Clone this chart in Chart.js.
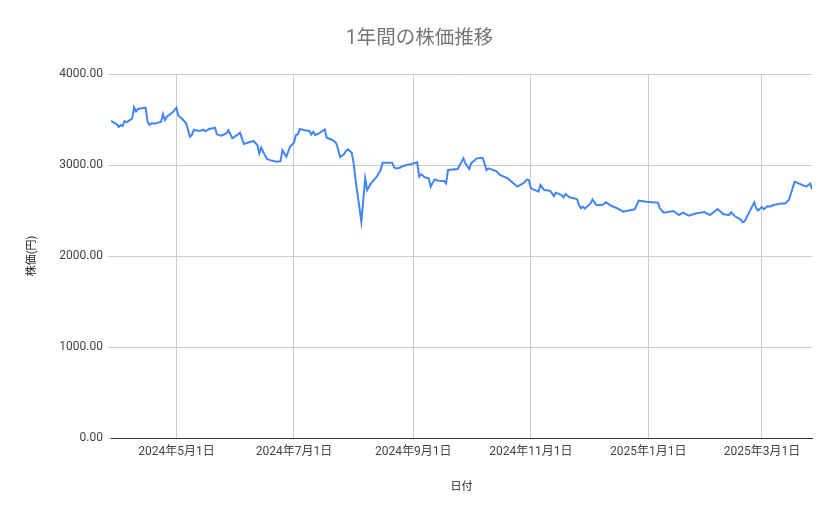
<!DOCTYPE html>
<html>
<head>
<meta charset="utf-8">
<script src="https://cdn.jsdelivr.net/npm/chart.js@4/dist/chart.umd.min.js"></script>
<style>
  html, body { margin: 0; padding: 0; background: #fff; }
  #wrap { width: 839px; height: 519px; position: relative; }
</style>
</head>
<body>
<div id="wrap"><canvas id="myChart"></canvas></div>
<script>
'use strict'

// values (vertices of the line)
const dates = [
  '2024-03-28','2024-03-31','2024-04-01','2024-04-02','2024-04-03','2024-04-04','2024-04-05','2024-04-07',
  '2024-04-08','2024-04-09','2024-04-10','2024-04-11','2024-04-13','2024-04-15','2024-04-16','2024-04-17',
  '2024-04-18','2024-04-20','2024-04-23','2024-04-24','2024-04-25','2024-04-26','2024-04-29','2024-05-01',
  '2024-05-02','2024-05-04','2024-05-06','2024-05-08','2024-05-09','2024-05-10','2024-05-13','2024-05-15',
  '2024-05-16','2024-05-18','2024-05-21','2024-05-22','2024-05-24','2024-05-27','2024-05-28','2024-05-30',
  '2024-06-01','2024-06-03','2024-06-05','2024-06-07','2024-06-10','2024-06-12','2024-06-13','2024-06-14',
  '2024-06-15','2024-06-17','2024-06-19','2024-06-22','2024-06-24','2024-06-25','2024-06-27','2024-06-29',
  '2024-07-01','2024-07-02','2024-07-03','2024-07-04','2024-07-06','2024-07-09','2024-07-10','2024-07-11',
  '2024-07-12','2024-07-14','2024-07-17','2024-07-18','2024-07-21','2024-07-23','2024-07-25','2024-07-27',
  '2024-07-28','2024-07-29','2024-07-31','2024-08-01','2024-08-02','2024-08-05','2024-08-07','2024-08-08',
  '2024-08-10','2024-08-13','2024-08-15','2024-08-16','2024-08-21','2024-08-22','2024-08-23','2024-08-25',
  '2024-08-27','2024-08-31','2024-09-03','2024-09-04','2024-09-05','2024-09-07','2024-09-09','2024-09-10',
  '2024-09-12','2024-09-14','2024-09-17','2024-09-18','2024-09-19','2024-09-24','2024-09-27','2024-09-28',
  '2024-09-30','2024-10-01','2024-10-04','2024-10-07','2024-10-09','2024-10-10','2024-10-14','2024-10-16',
  '2024-10-20','2024-10-25','2024-10-28','2024-10-30','2024-10-31','2024-11-01','2024-11-05','2024-11-06',
  '2024-11-08','2024-11-11','2024-11-13','2024-11-14','2024-11-17','2024-11-18','2024-11-19','2024-11-21',
  '2024-11-25','2024-11-26','2024-11-27','2024-11-28','2024-11-29','2024-12-02','2024-12-03','2024-12-05',
  '2024-12-08','2024-12-10','2024-12-13','2024-12-16','2024-12-19','2024-12-23','2024-12-25','2024-12-27',
  '2024-12-31','2025-01-06','2025-01-07','2025-01-09','2025-01-14','2025-01-17','2025-01-19','2025-01-22',
  '2025-01-26','2025-01-28','2025-01-30','2025-02-02','2025-02-06','2025-02-09','2025-02-12','2025-02-13',
  '2025-02-15','2025-02-18','2025-02-19','2025-02-20','2025-02-25','2025-02-26','2025-02-27','2025-03-01',
  '2025-03-02','2025-03-04','2025-03-05','2025-03-07','2025-03-11','2025-03-13','2025-03-15','2025-03-18',
  '2025-03-20','2025-03-24','2025-03-26','2025-03-27'
];

const prices = [
  3484,3447,3418,3440,3428,3484,3469,3495,
  3513,3634,3590,3615,3623,3630,3476,3440,
  3458,3455,3476,3560,3495,3531,3579,3630,
  3542,3505,3458,3311,3330,3385,3374,3388,
  3370,3396,3410,3337,3322,3348,3381,3293,
  3322,3355,3231,3245,3264,3220,3128,3190,
  3146,3066,3051,3036,3040,3164,3091,3201,
  3245,3330,3337,3396,3385,3374,3335,3365,
  3330,3348,3392,3300,3275,3238,3088,3117,
  3154,3172,3135,3018,2835,2377,2853,2725,
  2798,2872,2945,3025,3025,2974,2963,2970,
  2992,3011,3030,2872,2898,2865,2853,2762,
  2842,2827,2824,2798,2945,2956,3073,3018,
  2956,3018,3073,3080,2945,2963,2934,2890,
  2853,2762,2798,2840,2835,2744,2707,2780,
  2725,2718,2659,2696,2670,2645,2681,2645,
  2626,2560,2524,2542,2520,2578,2622,2560,
  2560,2590,2549,2524,2487,2505,2513,2608,
  2597,2586,2524,2476,2494,2451,2476,2443,
  2469,2476,2484,2451,2516,2458,2451,2480,
  2436,2400,2370,2381,2590,2524,2500,2540,
  2513,2549,2542,2560,2578,2578,2615,2817,
  2798,2762,2798,2733
];

const xTickDates = ['2024-05-01','2024-07-01','2024-09-01','2024-11-01','2025-01-01','2025-03-01'];
const yTicks = [0, 1000, 2000, 3000, 4000];

const chartTitle = '1年間の株価推移';
const xTitle = '日付';
const yTitle = '株価(円)';

function toMs(s){
  let p = s.split('-');
  return Date.UTC(+p[0], +p[1]-1, +p[2]);
}

function jpDate(ms){
  let d = new Date(ms);
  return d.getUTCFullYear()+'年'+(d.getUTCMonth()+1)+'月'+d.getUTCDate()+'日';
}

let points = dates.map((d,i) => ({x: toMs(d), y: prices[i]}));

const FONT = "Roboto, 'Noto Sans CJK JP', sans-serif";

new Chart(document.getElementById('myChart'), {
  type: 'line',
  data: {
    datasets: [{
      label: '株価',
      data: points,
      borderColor: '#4285f4',
      borderWidth: 2,
      pointRadius: 0,
      tension: 0,
      fill: false
    }]
  },
  options: {
    responsive: true,
    maintainAspectRatio: false,
    animation: false,
    layout: { padding: 0 },
    plugins: {
      legend: { display: false },
      tooltip: { enabled: false },
      title: {
        display: true,
        text: chartTitle,
        color: '#757575',
        font: { family: FONT, size: 19.5, weight: 'normal' },
        padding: { top: 27.3, bottom: 23.3 }
      }
    },
    scales: {
      x: {
        type: 'linear',
        min: toMs(dates[0]),
        max: toMs(dates[dates.length-1]),
        afterBuildTicks: function(scale){
          scale.ticks = xTickDates.map(s => ({value: toMs(s)}));
        },
        afterFit: function(scale){ scale.height = 81; },
        grid: { color: '#cccccc', drawTicks: false },
        border: { color: '#333333', width: 1 },
        ticks: {
          autoSkip: false,
          maxRotation: 0,
          padding: 7,
          color: '#444444',
          font: { family: FONT, size: 12 },
          callback: v => jpDate(v)
        },
        title: {
          display: true,
          text: xTitle,
          color: '#222222',
          font: { family: FONT, size: 11 },
          padding: { top: 0, bottom: 25.4 }
        }
      },
      y: {
        min: 0,
        max: 4000,
        afterBuildTicks: function(scale){
          scale.ticks = yTicks.map(v => ({value: v}));
        },
        afterFit: function(scale){ scale.width = 111; },
        grid: { color: '#cccccc', tickLength: 3 },
        border: { display: false },
        ticks: {
          padding: 5,
          color: '#444444',
          font: { family: FONT, size: 12 },
          callback: v => Number(v).toFixed(2)
        },
        title: {
          display: true,
          text: yTitle,
          color: '#222222',
          font: { family: FONT, size: 11 },
          padding: { top: 25.4, bottom: 0 }
        }
      },
      // empty right margin so the title stays centred on the whole width
      yRight: {
        position: 'right',
        min: 0,
        max: 4000,
        afterFit: function(scale){ scale.width = 27; },
        grid: { display: false },
        border: { display: false },
        ticks: { display: false }
      }
    }
  }
});
</script>
</body>
</html>
